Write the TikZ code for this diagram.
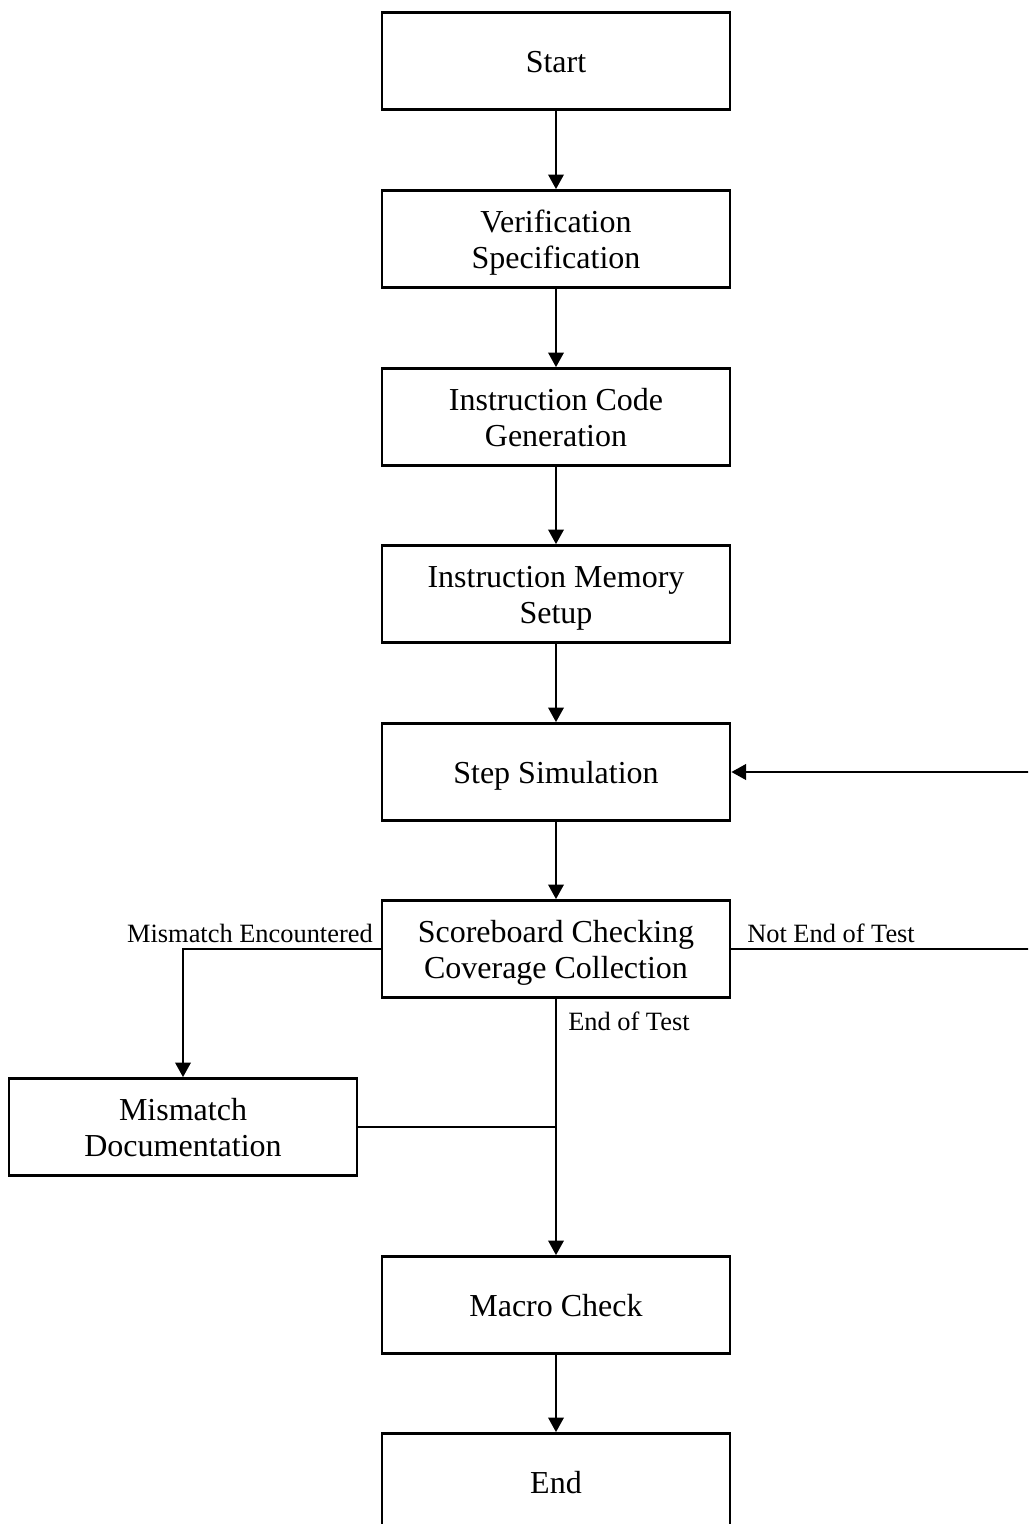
\documentclass[tikz,border=0pt]{standalone}
\usepackage{fontspec}
\setmainfont{Liberation Serif}
\usetikzlibrary{arrows.meta}
% box text: centred lines, set a little low in the box
\newcommand\boxtxt[1]{\raisebox{-3pt}[\height][\depth]{\begin{tabular}{@{}c@{}}#1\end{tabular}}}
\begin{document}
\begin{tikzpicture}[x=0.75pt,y=-0.75pt,
  stepbox/.style={draw, line width=2pt, minimum width=261pt, minimum height=72.75pt,
    align=center, inner sep=0pt, font=\fontsize{24}{27.5}\selectfont},
  flow/.style={line width=2pt, -{Triangle[length=11pt,width=11.5pt]}},
  link/.style={line width=2pt},
  lbl/.style={inner sep=0pt, font=\fontsize{19.8}{22}\selectfont}]
\useasboundingbox (0,0) rectangle (1028,1524);
\clip (0,0) rectangle (1028,1524);
% main column
\node[stepbox] (start) at (556,61)   {\boxtxt{Start}};
\node[stepbox] (spec)  at (556,239)  {\boxtxt{Verification\\Specification}};
\node[stepbox] (code)  at (556,417)  {\boxtxt{Instruction Code\\Generation}};
\node[stepbox] (mem)   at (556,594)  {\boxtxt{Instruction Memory\\Setup}};
\node[stepbox] (sim)   at (556,772)  {\boxtxt{Step Simulation}};
\node[stepbox] (score) at (556,949)  {\boxtxt{Scoreboard Checking\\Coverage Collection}};
\node[stepbox] (doc)   at (183,1127) {\boxtxt{Mismatch\\Documentation}};
\node[stepbox] (macro) at (556,1305) {\boxtxt{Macro Check}};
\node[stepbox] (end)   at (556,1482) {\boxtxt{End}};
% straight flow
\draw[flow] (start) -- (spec);
\draw[flow] (spec) -- (code);
\draw[flow] (code) -- (mem);
\draw[flow] (mem) -- (sim);
\draw[flow] (sim) -- (score);
\draw[flow] (macro) -- (end);
% loop back on the right
\coordinate (rt) at (1036,0);
\draw[flow] (score.east) -- (score.east -| rt) -- (sim.east -| rt) -- (sim.east);
\node[lbl, anchor=base west] (net) at (747,942) {Not End of Test};
% mismatch branch
\draw[flow] (score.west) -| (doc.north);
\node[lbl, anchor=base east] (mis) at (373,942) {Mismatch Encountered};
% end of test
\draw[flow] (score.south) -- (macro.north);
\draw[link] (doc.east) -- (doc.east -| score.south);
\node[lbl, anchor=base west] (eot) at (568,1030) {End of Test};
\end{tikzpicture}
\end{document}
